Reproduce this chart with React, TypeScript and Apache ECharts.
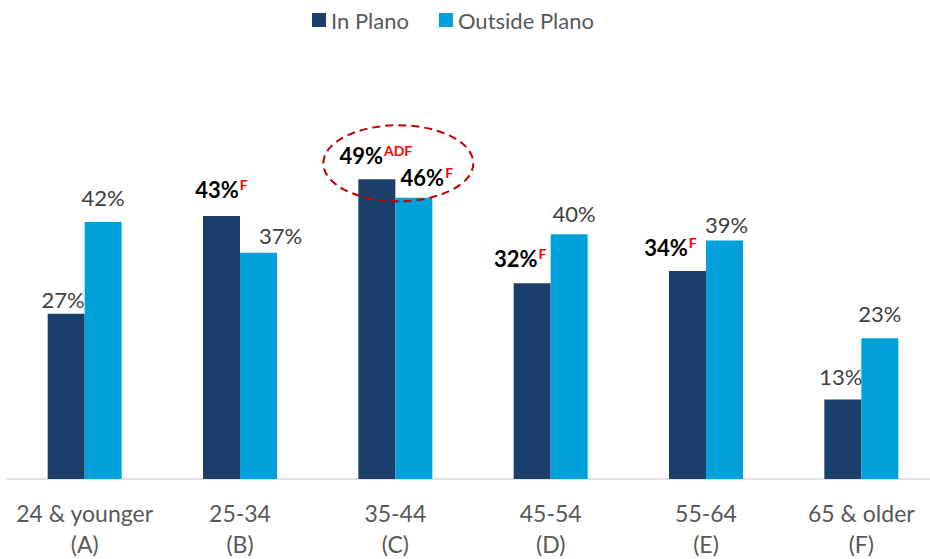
import React, { useEffect, useRef } from "react";
import * as echarts from "echarts";

const categories = ["24 & younger", "25-34", "35-44", "45-54", "55-64", "65 & older"];
const groupLetters = ["A", "B", "C", "D", "E", "F"];
const inPlano = [27, 43, 49, 32, 34, 13];
const outsidePlano = [42, 37, 46, 40, 39, 23];
const inPlanoSig = ["", "F", "ADF", "F", "F", ""];
const outsidePlanoSig = ["", "", "F", "", "", ""];

// label layout tweaks (horizontal shift and gap above bar)
const inDx = [-3, 0, -1, -12, -17, -2];
const inGap = [2, 14, 12, 13, 12, 11];
const outDx = [0, 22, 13, 5, 2, 0];
const outGap = [13, 5, 8, 9, 4, 13];

const FONT = "Lato, 'Noto Sans', sans-serif";

function buildData(values: number[], sig: string[], dx: number[], gap: number[]) {
  return values.map((v, i) => ({
    value: v,
    label: {
      offset: [dx[i], 0],
      distance: gap[i],
      formatter: sig[i] ? `{b|${v}%}{s|${sig[i]}}` : `{n|${v}%}`,
    },
  }));
}

const labelRich = {
  b: { fontFamily: FONT, fontSize: 22, fontWeight: "bold", color: "#000000", lineHeight: 24 },
  n: { fontFamily: FONT, fontSize: 22, color: "#404040", lineHeight: 24 },
  s: {
    fontFamily: FONT,
    fontSize: 14,
    fontWeight: "bold",
    color: "#FF0000",
    verticalAlign: "top",
    lineHeight: 14,
    padding: [0, 0, 0, 1],
  },
};

export default function App() {
  const ref = useRef<HTMLDivElement>(null);
  useEffect(() => {
    document.body.style.margin = "0";
    const chart = echarts.init(ref.current!, undefined, { renderer: "svg" });
    chart.setOption({
      animation: false,
      backgroundColor: "#ffffff",
      legend: {
        left: 307,
        top: 4,
        icon: "rect",
        itemWidth: 14,
        itemHeight: 14,
        itemGap: 30,
        textStyle: { fontFamily: FONT, fontSize: 22, color: "#595959" },
        data: ["In Plano", "Outside Plano"],
      },
      grid: { left: 7, width: 932, top: 112, bottom: 80, containLabel: false },
      xAxis: {
        type: "category",
        data: categories,
        axisLine: { lineStyle: { color: "#D9D9D9", width: 1.5 } },
        axisTick: { show: false },
        axisLabel: {
          interval: 0,
          margin: 18,
          fontFamily: FONT,
          fontSize: 23,
          lineHeight: 31,
          color: "#595959",
          formatter: (val: string, idx: number) => `${val}\n(${groupLetters[idx]})`,
        },
      },
      yAxis: {
        type: "value",
        min: 0,
        max: 60,
        show: false,
        splitLine: { show: false },
      },
      series: [
        {
          name: "In Plano",
          type: "bar",
          barWidth: 37,
          barGap: "0%",
          itemStyle: { color: "#1B3F6B" },
          label: { show: true, position: "top", rich: labelRich },
          data: buildData(inPlano, inPlanoSig, inDx, inGap),
        },
        {
          name: "Outside Plano",
          type: "bar",
          barWidth: 37,
          barGap: "0%",
          itemStyle: { color: "#00A0DA" },
          label: { show: true, position: "top", rich: labelRich },
          data: buildData(outsidePlano, outsidePlanoSig, outDx, outGap),
        },
      ],
    });
    // dashed ellipse highlighting the 35-44 group
    const [cx, cy] = chart.convertToPixel({ gridIndex: 0 }, [categories[2], inPlano[2]]) as number[];
    chart.setOption({
      graphic: [
        {
          type: "ellipse",
          shape: { cx: cx + 3, cy: cy - 16, rx: 75, ry: 38 },
          style: { fill: "none", stroke: "#C00000", lineWidth: 2, lineDash: [8, 5] },
          z: 100,
        },
      ],
    });
    return () => chart.dispose();
  }, []);
  return (
    <div style={{ width: 930, height: 559, overflow: "hidden" }}>
      <div ref={ref} style={{ width: 950, height: 559 }} />
    </div>
  );
}
